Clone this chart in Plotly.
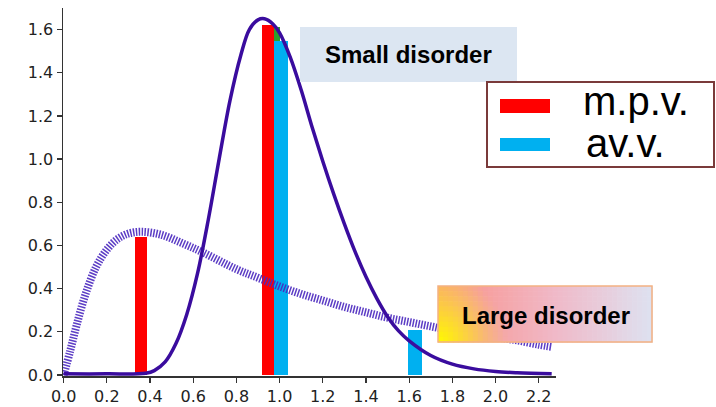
import plotly.graph_objects as go

# ---- data ----
solid_x = [0.0, 0.2, 0.38, 0.42, 0.47, 0.52, 0.57, 0.62, 0.67, 0.72, 0.77, 0.82, 0.86, 0.90, 0.93,
           0.97, 1.00, 1.05, 1.10, 1.15, 1.20, 1.25, 1.30, 1.35, 1.40, 1.45, 1.50, 1.55, 1.60,
           1.70, 1.80, 1.90, 2.00, 2.10, 2.26]
solid_y = [0.005, 0.005, 0.008, 0.02, 0.06, 0.145, 0.28, 0.47, 0.72, 1.00, 1.27, 1.48, 1.60, 1.645, 1.65,
           1.625, 1.585, 1.47, 1.32, 1.15, 0.99, 0.84, 0.70, 0.57, 0.455, 0.355, 0.27, 0.205, 0.158,
           0.09, 0.05, 0.028, 0.016, 0.01, 0.005]

dotted_x = [0.0, 0.03, 0.06, 0.10, 0.15, 0.20, 0.25, 0.30, 0.36, 0.45, 0.55, 0.65, 0.80, 0.90, 1.00,
            1.10, 1.20, 1.30, 1.40, 1.50, 1.60, 1.70, 1.80, 1.90, 2.00, 2.10, 2.20, 2.26]
dotted_y = [0.0, 0.11, 0.23, 0.37, 0.50, 0.58, 0.63, 0.655, 0.663, 0.65, 0.61, 0.565, 0.49, 0.45, 0.41,
            0.375, 0.345, 0.315, 0.29, 0.265, 0.245, 0.225, 0.205, 0.19, 0.175, 0.16, 0.14, 0.13]

mpv_x = [0.36, 0.945]
mpv_y = [0.64, 1.62]
avv_x = [1.005, 1.627]
avv_y = [1.545, 0.21]
green_x = [0.988]
green_y = [1.61]

tick_vals_x = [0.0, 0.2, 0.4, 0.6, 0.8, 1.0, 1.2, 1.4, 1.6, 1.8, 2.0, 2.2]
tick_vals_y = [0.0, 0.2, 0.4, 0.6, 0.8, 1.0, 1.2, 1.4, 1.6]

legend_labels = ["m.p.v.", "av.v."]
box_small = "Small disorder"
box_large = "Large disorder"

# ---- layout geometry ----
W, H = 716, 407
ML, MR, MT, MB = 63, 160, 8, 31
PW, PH = W - ML - MR, H - MT - MB


def px(xp):
    return (xp - ML) / PW


def py(yp):
    return (H - MB - yp) / PH


fig = go.Figure()

fig.add_trace(go.Scatter(x=dotted_x, y=dotted_y, mode="lines", line_shape="spline",
                         line=dict(color="#4a28bf", width=8, dash="1.5px,1.4px"),
                         opacity=0.9, hoverinfo="skip", showlegend=False))
fig.add_trace(go.Scatter(x=solid_x, y=solid_y, mode="lines", line_shape="spline",
                         line=dict(color="#3a0c9e", width=3.5),
                         hoverinfo="skip", showlegend=False))
fig.add_trace(go.Bar(x=green_x, y=green_y, width=0.025, marker=dict(color="#2ca02c", line_width=0),
                     showlegend=False))
fig.add_trace(go.Bar(x=mpv_x, y=mpv_y, width=0.056, marker=dict(color="#ff0000", line_width=0),
                     showlegend=False))
fig.add_trace(go.Bar(x=avv_x, y=avv_y, width=0.064, marker=dict(color="#00b0f0", line_width=0),
                     showlegend=False))

shapes = []
annotations = []

# Small disorder box
shapes.append(dict(type="rect", xref="paper", yref="paper", x0=px(300), x1=px(517), y0=py(82), y1=py(27),
                   fillcolor="#dce6f2", line=dict(width=0), layer="above"))
annotations.append(dict(xref="paper", yref="paper", x=px(408), y=py(55), text="<b>" + box_small + "</b>",
                        showarrow=False, xanchor="center", yanchor="middle",
                        font=dict(family="Liberation Sans", size=24, color="#000000")))

# Large disorder box with gradient fill
bx0, bx1, by0, by1 = 438, 652, 286, 342
nx, ny = 43, 11


def lerp(a, b, t):
    return tuple(a[i] + (b[i] - a[i]) * t for i in range(3))


stops = [(0.0, (250, 170, 110)), (0.22, (246, 160, 160)), (0.55, (240, 185, 200)), (1.0, (222, 225, 240))]


def base_col(t):
    for i in range(len(stops) - 1):
        t0, c0 = stops[i]
        t1, c1 = stops[i + 1]
        if t <= t1:
            return lerp(c0, c1, (t - t0) / (t1 - t0))
    return stops[-1][1]


cw = (bx1 - bx0) / nx
ch = (by1 - by0) / ny
for i in range(nx):
    for j in range(ny):
        cx = (i + 0.5) / nx
        cy = (j + 0.5) / ny  # 0 top, 1 bottom
        c = base_col(cx)
        dx = cx * (bx1 - bx0)
        dy = (1 - cy) * (by1 - by0)
        d = (dx * dx + dy * dy) ** 0.5
        w = max(0.0, 1 - d / 70.0)
        c = lerp(c, (255, 250, 0), w ** 1.2)
        col = "rgb(%d,%d,%d)" % tuple(int(round(v)) for v in c)
        shapes.append(dict(type="rect", xref="paper", yref="paper",
                           x0=px(bx0 + i * cw), x1=px(bx0 + (i + 1) * cw + 0.6),
                           y0=py(by0 + (j + 1) * ch + 0.6), y1=py(by0 + j * ch),
                           fillcolor=col, line=dict(width=0), layer="above"))
shapes.append(dict(type="rect", xref="paper", yref="paper", x0=px(bx0), x1=px(bx1), y0=py(by1), y1=py(by0),
                   fillcolor="rgba(0,0,0,0)", line=dict(color="#f4b183", width=1.5), layer="above"))
annotations.append(dict(xref="paper", yref="paper", x=px(546), y=py(315), text="<b>" + box_large + "</b>",
                        showarrow=False, xanchor="center", yanchor="middle",
                        font=dict(family="Liberation Sans", size=24, color="#000000")))

# Legend box
shapes.append(dict(type="rect", xref="paper", yref="paper", x0=px(487), x1=px(714), y0=py(167), y1=py(82),
                   fillcolor="#ffffff", line=dict(color="#7a3a3a", width=2), layer="above"))
shapes.append(dict(type="rect", xref="paper", yref="paper", x0=px(500), x1=px(550), y0=py(113), y1=py(99),
                   fillcolor="#ff0000", line=dict(width=0), layer="above"))
shapes.append(dict(type="rect", xref="paper", yref="paper", x0=px(500), x1=px(550), y0=py(151), y1=py(138),
                   fillcolor="#00b0f0", line=dict(width=0), layer="above"))
annotations.append(dict(xref="paper", yref="paper", x=px(636), y=py(101), text=legend_labels[0],
                        showarrow=False, xanchor="center", yanchor="middle",
                        font=dict(family="Liberation Sans", size=40, color="#000000")))
annotations.append(dict(xref="paper", yref="paper", x=px(625), y=py(143), text=legend_labels[1],
                        showarrow=False, xanchor="center", yanchor="middle",
                        font=dict(family="Liberation Sans", size=40, color="#000000")))

axis_common = dict(showline=True, linecolor="#333333", linewidth=1.5, ticks="outside", ticklen=5,
                   tickwidth=1.2, tickcolor="#333333", showgrid=False, zeroline=False,
                   tickfont=dict(family="DejaVu Sans", size=16, color="#222222"), tickformat=".1f")

fig.update_layout(
    width=W, height=H,
    margin=dict(l=ML, r=MR, t=MT, b=MB, autoexpand=False),
    paper_bgcolor="white", plot_bgcolor="white",
    barmode="overlay", bargap=0,
    xaxis=dict(range=[-0.003, 2.28], tickvals=tick_vals_x, automargin=False, **axis_common),
    yaxis=dict(range=[-0.005, 1.70], tickvals=tick_vals_y, automargin=False, **axis_common),
    shapes=shapes, annotations=annotations,
    showlegend=False,
)

fig.write_html("out.html", config={"displayModeBar": False, "staticPlot": True},
               post_script="document.body.style.margin='0px';document.body.style.overflow='hidden';")
